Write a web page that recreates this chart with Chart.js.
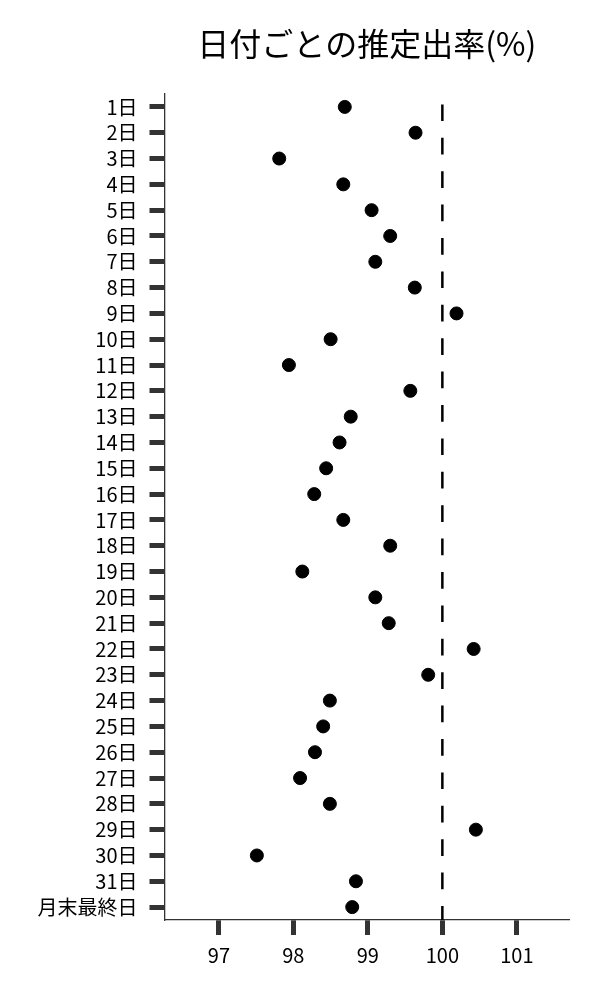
<!DOCTYPE html>
<html>
<head>
<meta charset="utf-8">
<script src="https://cdn.jsdelivr.net/npm/chart.js@4/dist/chart.umd.min.js"></script>
<style>
  html, body { margin: 0; padding: 0; background: #fff; }
  canvas { display: block; }
</style>
</head>
<body>
<canvas id="grafica" width="600" height="1000"></canvas>
<script>
var titulo = '日付ごとの推定出率(%)';
var dias = ['1日', '2日', '3日', '4日', '5日', '6日', '7日', '8日', '9日', '10日',
            '11日', '12日', '13日', '14日', '15日', '16日', '17日', '18日', '19日', '20日',
            '21日', '22日', '23日', '24日', '25日', '26日', '27日', '28日', '29日', '30日',
            '31日', '月末最終日'];
var tasas = [98.69, 99.64, 97.81, 98.67, 99.05, 99.30, 99.10, 99.63, 100.19, 98.50,
             97.94, 99.57, 98.77, 98.62, 98.44, 98.28, 98.67, 99.30, 98.12, 99.10,
             99.28, 100.42, 99.81, 98.49, 98.40, 98.29, 98.09, 98.49, 100.45, 97.51,
             98.84, 98.79];
var ticksX = [97, 98, 99, 100, 101];
var referencia = 100;

var fuente = '"Noto Sans CJK JP", "Noto Sans", sans-serif';

// linea discontinua en 100 y titulo centrado sobre el area del grafico
var extras = {
    id: 'extras',
    beforeDatasetsDraw: function(chart) {
        var c = chart.ctx, area = chart.chartArea;
        var px = chart.scales.x.getPixelForValue(referencia);
        c.save();
        c.strokeStyle = '#000';
        c.lineWidth = 2.5;
        c.setLineDash([16.7, 16.7]);
        c.lineDashOffset = 23;
        c.beginPath();
        c.moveTo(px, area.top);
        c.lineTo(px, area.bottom);
        c.stroke();
        c.restore();
    },
    afterDraw: function(chart) {
        var c = chart.ctx, area = chart.chartArea;
        c.save();
        c.fillStyle = '#000';
        c.font = '32px ' + fuente;
        c.textAlign = 'center';
        c.textBaseline = 'middle';
        c.fillText(titulo, (area.left + area.right) / 2, 44);
        c.restore();
    }
};

var ctx = document.getElementById('grafica').getContext('2d');
var grafica = new Chart(ctx, {
    type: 'scatter',
    data: {
        datasets: [{
            label: titulo,
            data: tasas.map(function(v, i) { return { x: v, y: dias[i] }; }),
            backgroundColor: '#000',
            borderColor: '#000',
            pointRadius: 6.5,
            pointHoverRadius: 6.5
        }]
    },
    options: {
        responsive: false,
        animation: false,
        devicePixelRatio: 1,
        layout: { padding: { top: 94, right: 31, bottom: 0, left: 0 } },
        plugins: {
            legend: { display: false },
            title: { display: false },
            tooltip: { enabled: false }
        },
        scales: {
            x: {
                type: 'linear',
                min: 96.27,
                max: 101.70,
                afterBuildTicks: function(scale) {
                    scale.ticks = ticksX.map(function(v) { return { value: v }; });
                },
                afterFit: function(scale) { scale.height = 80; },
                grid: {
                    drawOnChartArea: false,
                    drawTicks: true,
                    tickLength: 15,
                    tickWidth: 5,
                    tickColor: '#333'
                },
                border: { color: '#333', width: 1.3 },
                ticks: {
                    color: '#000',
                    padding: 8,
                    font: { family: fuente, size: 20 }
                }
            },
            y: {
                type: 'category',
                labels: dias,
                offset: true,
                afterFit: function(scale) { scale.width = 164.5; },
                grid: {
                    drawOnChartArea: false,
                    drawTicks: true,
                    tickLength: 15,
                    tickWidth: 5,
                    tickColor: '#333'
                },
                border: { color: '#333', width: 1.3 },
                ticks: {
                    color: '#000',
                    padding: 12,
                    autoSkip: false,
                    font: { family: fuente, size: 20 }
                }
            }
        }
    },
    plugins: [extras]
});
</script>
</body>
</html>
